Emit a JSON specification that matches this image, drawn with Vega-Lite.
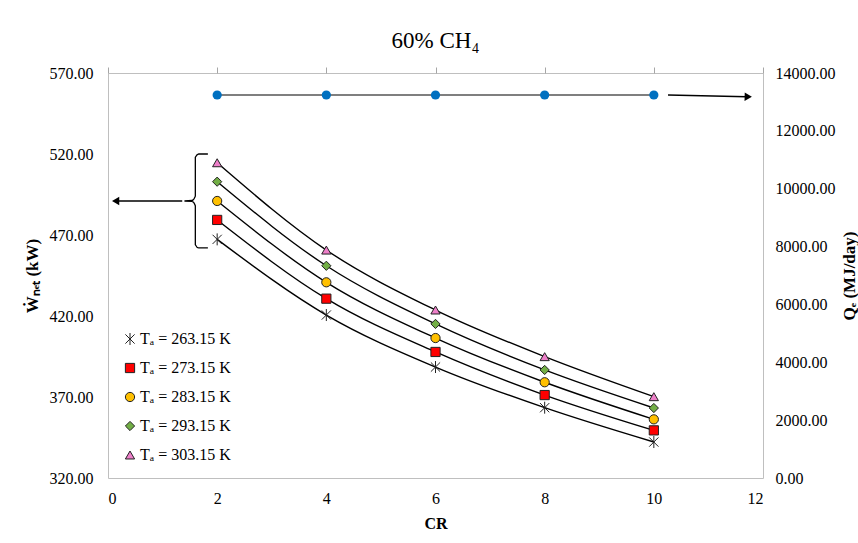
{
  "$schema": "https://vega.github.io/schema/vega-lite/v6.json",
  "width": 655,
  "height": 405,
  "autosize": {"type": "none"},
  "padding": {"left": 108, "top": 73, "right": 95, "bottom": 65},
  "background": "white",
  "title": {"text": "60% CH₄", "font": "Liberation Serif", "fontSize": 23, "fontWeight": "normal", "color": "#000", "anchor": "middle", "frame": "group", "baseline": "alphabetic", "offset": -6},
  "config": {
    "font": "Liberation Serif",
    "view": {"stroke": "#bfbfbf", "strokeWidth": 1},
    "axis": {"grid": false, "domain": false, "labelFont": "Liberation Serif", "labelFontSize": 16, "labelColor": "#000", "titleFont": "Liberation Serif", "titleColor": "#000", "titleFontWeight": "bold", "titleFontSize": 17, "tickColor": "#a6a6a6"},
    "legend": {"labelFont": "Liberation Serif", "labelFontSize": 16, "labelColor": "#000", "padding": 0, "offset": 0}
  },
  "datasets": {
    "main": [
      {"cr": 2, "w": 467.3, "series": "Tₐ = 263.15 K"},
      {"cr": 4, "w": 420.6, "series": "Tₐ = 263.15 K"},
      {"cr": 6, "w": 388.5, "series": "Tₐ = 263.15 K"},
      {"cr": 8, "w": 363.4, "series": "Tₐ = 263.15 K"},
      {"cr": 10, "w": 342.2, "series": "Tₐ = 263.15 K"},
      {"cr": 2, "w": 479.3, "series": "Tₐ = 273.15 K"},
      {"cr": 4, "w": 430.7, "series": "Tₐ = 273.15 K"},
      {"cr": 6, "w": 397.8, "series": "Tₐ = 273.15 K"},
      {"cr": 8, "w": 371.2, "series": "Tₐ = 273.15 K"},
      {"cr": 10, "w": 349.4, "series": "Tₐ = 273.15 K"},
      {"cr": 2, "w": 491.0, "series": "Tₐ = 283.15 K"},
      {"cr": 4, "w": 440.8, "series": "Tₐ = 283.15 K"},
      {"cr": 6, "w": 406.4, "series": "Tₐ = 283.15 K"},
      {"cr": 8, "w": 379.1, "series": "Tₐ = 283.15 K"},
      {"cr": 10, "w": 356.2, "series": "Tₐ = 283.15 K"},
      {"cr": 2, "w": 502.9, "series": "Tₐ = 293.15 K"},
      {"cr": 4, "w": 451.0, "series": "Tₐ = 293.15 K"},
      {"cr": 6, "w": 415.1, "series": "Tₐ = 293.15 K"},
      {"cr": 8, "w": 386.7, "series": "Tₐ = 293.15 K"},
      {"cr": 10, "w": 363.2, "series": "Tₐ = 293.15 K"},
      {"cr": 2, "w": 514.6, "series": "Tₐ = 303.15 K"},
      {"cr": 4, "w": 460.7, "series": "Tₐ = 303.15 K"},
      {"cr": 6, "w": 423.7, "series": "Tₐ = 303.15 K"},
      {"cr": 8, "w": 394.9, "series": "Tₐ = 303.15 K"},
      {"cr": 10, "w": 370.2, "series": "Tₐ = 303.15 K"}
    ],
    "heat": [
      {"cr": 2, "q": 13240},
      {"cr": 4, "q": 13240},
      {"cr": 6, "q": 13240},
      {"cr": 8, "q": 13240},
      {"cr": 10, "q": 13240}
    ],
    "brace": [
      {"i": 1, "cr": 1.83, "w": 520},
      {"i": 2, "cr": 1.66, "w": 520},
      {"i": 3, "cr": 1.6, "w": 518},
      {"i": 4, "cr": 1.6, "w": 494},
      {"i": 5, "cr": 1.54, "w": 491.3},
      {"i": 6, "cr": 1.4, "w": 491},
      {"i": 7, "cr": 1.54, "w": 490.7},
      {"i": 8, "cr": 1.6, "w": 488},
      {"i": 9, "cr": 1.6, "w": 464},
      {"i": 10, "cr": 1.66, "w": 462},
      {"i": 11, "cr": 1.83, "w": 462}
    ]
  },
  "layer": [
    {
      "layer": [
        {
          "data": {"name": "main"},
          "mark": {"type": "line", "color": "#000", "strokeWidth": 1.4, "interpolate": "monotone"},
          "encoding": {
            "x": {"field": "cr", "type": "quantitative", "scale": {"domain": [0, 12], "nice": false}, "axis": {"orient": "bottom", "values": [0, 2, 4, 6, 8, 10, 12], "format": "d", "ticks": false, "labelPadding": 12, "title": "CR", "titlePadding": 9, "titleFontSize": 16}},
            "y": {"field": "w", "type": "quantitative", "scale": {"domain": [320, 570], "nice": false, "zero": false}, "axis": {"orient": "left", "values": [320, 370, 420, 470, 520, 570], "format": ".2f", "ticks": false, "labelPadding": 15, "title": "Ẇₙₑₜ (kW)", "titlePadding": 8}},
            "detail": {"field": "series"}
          }
        },
        {
          "data": {"name": "main"},
          "mark": {"type": "point", "filled": true, "size": 85, "stroke": "#222", "strokeWidth": 1, "opacity": 1},
          "encoding": {
            "x": {"field": "cr", "type": "quantitative"},
            "y": {"field": "w", "type": "quantitative"},
            "fill": {"field": "series", "type": "nominal", "scale": {"domain": ["Tₐ = 263.15 K", "Tₐ = 273.15 K", "Tₐ = 283.15 K", "Tₐ = 293.15 K", "Tₐ = 303.15 K"], "range": ["#000000", "#ff0000", "#ffc000", "#72ae45", "#ee7fc9"]}, "legend": {"title": null, "orient": "none", "legendX": 14, "legendY": 258, "rowPadding": 13, "labelOffset": 2, "symbolSize": 85, "symbolStrokeColor": "#222", "symbolStrokeWidth": 1}},
            "shape": {"field": "series", "type": "nominal", "scale": {"domain": ["Tₐ = 263.15 K", "Tₐ = 273.15 K", "Tₐ = 283.15 K", "Tₐ = 293.15 K", "Tₐ = 303.15 K"], "range": ["M-1,-1L1,1M-1,1L1,-1M0,-1.3L0,1.3", "square", "circle", "diamond", "triangle-up"]}, "legend": {"title": null}}
          }
        },
        {
          "data": {"values": [{}]},
          "mark": {"type": "rule", "color": "#000", "strokeWidth": 1.4},
          "encoding": {
            "x": {"datum": 0.2, "type": "quantitative"},
            "x2": {"datum": 1.36},
            "y": {"datum": 491, "type": "quantitative"}
          }
        },
        {
          "data": {"values": [{}]},
          "mark": {"type": "point", "shape": "triangle-left", "filled": true, "color": "#000", "size": 70, "opacity": 1},
          "encoding": {
            "x": {"datum": 0.14, "type": "quantitative"},
            "y": {"datum": 491, "type": "quantitative"}
          }
        },
        {
          "data": {"name": "brace"},
          "mark": {"type": "line", "color": "#000", "strokeWidth": 1.3, "interpolate": "monotone"},
          "encoding": {
            "x": {"field": "cr", "type": "quantitative"},
            "y": {"field": "w", "type": "quantitative"},
            "order": {"field": "i", "type": "quantitative"}
          }
        }
      ]
    },
    {
      "layer": [
        {
          "data": {"name": "heat"},
          "mark": {"type": "line", "color": "#000", "strokeWidth": 1.2},
          "encoding": {
            "x": {"field": "cr", "type": "quantitative", "axis": {"orient": "top", "values": [0, 2, 4, 6, 8, 10, 12], "labels": false, "ticks": true, "tickSize": 6, "tickColor": "#a6a6a6", "domain": false, "title": null}},
            "y": {"field": "q", "type": "quantitative", "scale": {"domain": [0, 14000], "nice": false}, "axis": {"orient": "right", "values": [0, 2000, 4000, 6000, 8000, 10000, 12000, 14000], "format": ".2f", "ticks": false, "labelPadding": 12, "title": "Qₑ (MJ/day)", "titleAngle": 270, "titleBaseline": "top", "titlePadding": 6}}
          }
        },
        {
          "data": {"name": "heat"},
          "mark": {"type": "point", "filled": true, "color": "#0070c0", "size": 85, "opacity": 1},
          "encoding": {
            "x": {"field": "cr", "type": "quantitative"},
            "y": {"field": "q", "type": "quantitative"}
          }
        },
        {
          "data": {"values": [{}]},
          "mark": {"type": "rule", "color": "#000", "strokeWidth": 1.4},
          "encoding": {
            "x": {"datum": 10.26, "type": "quantitative"},
            "x2": {"datum": 11.7},
            "y": {"datum": 13240, "type": "quantitative"},
            "y2": {"datum": 13180}
          }
        },
        {
          "data": {"values": [{}]},
          "mark": {"type": "point", "shape": "triangle-right", "filled": true, "color": "#000", "size": 70, "angle": 1.3, "opacity": 1},
          "encoding": {
            "x": {"datum": 11.73, "type": "quantitative"},
            "y": {"datum": 13178, "type": "quantitative"}
          }
        }
      ]
    }
  ],
  "resolve": {"scale": {"y": "independent", "x": "shared"}, "axis": {"x": "independent", "y": "independent"}}
}
